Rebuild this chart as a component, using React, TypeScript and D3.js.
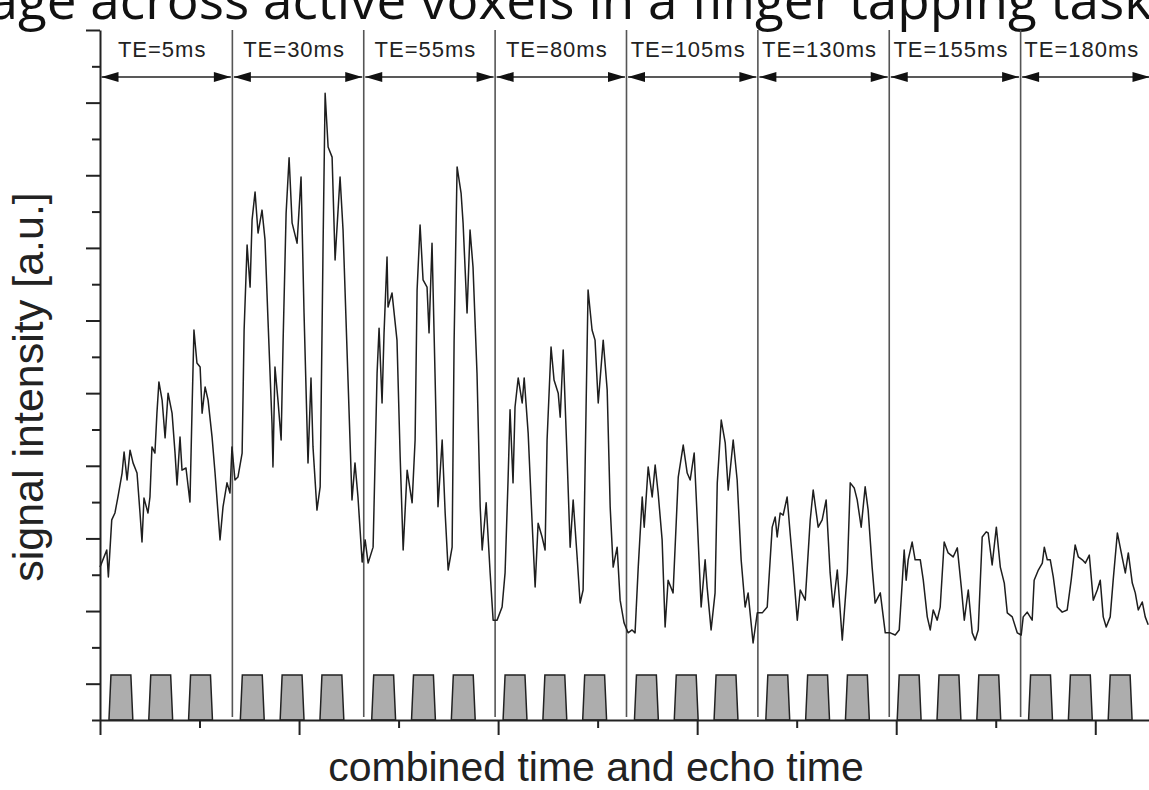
import React, { useRef, useEffect } from "react";
import * as d3 from "d3";

/* texts */
const titleText = "Signal average across active voxels in a finger tapping task";
const xLabel = "combined time and echo time";
const yLabel = "signal intensity [a.u.]";
const teLabels = ["TE=5ms", "TE=30ms", "TE=55ms", "TE=80ms", "TE=105ms", "TE=130ms", "TE=155ms", "TE=180ms"];

/* paradigm: 66 scans per echo time, three tapping blocks in each */
const scansPerTE = 66;
const totalScans = 528;
const blockOnsets = [4, 24, 44];
const blockLength = 12;
const boxLevel = 1.24;

/* axis ticks */
const yMax = 19;
const yMajorTicks = [1, 3, 5, 7, 9, 11, 13, 15, 17, 19];
const yMinorTicks = [0, 2, 4, 6, 8, 10, 12, 14, 16, 18];
const xMajorTicks = [0, 100, 200, 300, 400, 500];
const xMinorTicks = [50, 150, 250, 350, 450];

/* signal per echo time: [scan, intensity] */
const te5 = [[0, 4.21], [3.4, 4.68], [4.2, 3.94], [5.9, 5.51], [7.5, 5.7], [9.0, 6.14], [11.1, 6.8], [12.1, 7.38], [13.6, 6.61], [15.1, 7.43], [16.6, 7.08], [18.6, 6.8], [20.1, 5.7], [21.1, 4.9], [22.1, 6.11], [24.1, 5.7], [25.1, 6.14], [26.1, 7.52], [27.6, 7.35], [28.6, 8.45], [29.6, 9.31], [31.2, 8.81], [32.7, 7.77], [34.2, 9.0], [36.2, 8.45], [37.7, 7.35], [38.7, 6.47], [40.2, 7.79], [41.2, 6.88], [43.2, 6.94], [45.2, 6.0], [46.2, 8.45], [47.2, 10.74], [48.7, 9.83], [50.3, 9.72], [51.3, 8.45], [52.8, 9.17], [54.3, 8.81], [56.3, 7.79], [57.8, 6.8], [60.3, 4.96], [61.8, 5.87], [63.8, 6.53], [65.3, 6.25]];
const te30 = [[66.3, 7.52], [67.8, 6.61], [69.3, 6.69], [71.4, 7.35], [72.4, 10.74], [73.9, 13.08], [75.4, 11.92], [76.4, 13.77], [77.9, 14.54], [79.4, 13.41], [81.4, 14.04], [82.9, 13.22], [84.4, 11.01], [86.4, 8.18], [86.9, 6.97], [87.9, 9.72], [89.4, 8.81], [91.0, 7.71], [92.0, 10.46], [93.5, 13.96], [95.0, 15.48], [96.5, 13.69], [99.0, 13.13], [101.0, 14.95], [102.5, 11.21], [104.5, 7.08], [106.0, 9.42], [107.0, 7.52], [109.0, 5.78], [110.6, 6.42], [112.1, 13.22], [113.1, 17.26], [114.6, 15.78], [116.6, 15.5], [118.1, 12.67], [120.6, 14.95], [122.1, 13.49], [124.6, 9.36], [126.6, 6.06], [128.1, 7.08], [129.6, 6.14], [131.7, 4.35]];
const te55 = [[133.2, 4.96], [134.7, 4.32], [137.2, 4.76], [139.2, 9.55], [140.2, 10.79], [141.7, 8.73], [142.7, 10.66], [144.2, 12.75], [144.7, 11.37], [146.7, 11.76], [149.2, 10.46], [150.8, 7.24], [152.3, 4.68], [154.3, 6.88], [156.8, 5.98], [158.3, 7.71], [159.3, 11.84], [160.8, 13.63], [162.3, 12.12], [164.3, 11.92], [165.3, 10.66], [166.8, 13.13], [168.3, 9.55], [169.8, 5.87], [171.9, 7.71], [173.4, 5.7], [174.9, 4.13], [176.9, 4.76], [177.9, 10.46], [179.4, 15.23], [181.4, 14.51], [182.4, 13.69], [184.4, 11.21], [185.9, 13.49], [187.4, 12.47], [189.4, 9.55], [191.0, 5.87], [192.0, 4.68], [194.0, 5.98], [196.0, 4.05], [197.5, 2.75]];
const te80 = [[199.5, 2.75], [202.0, 3.11], [203.5, 4.05], [205.0, 6.61], [206.0, 8.54], [207.5, 6.53], [208.5, 8.62], [210.1, 9.42], [212.1, 8.73], [213.1, 9.42], [215.1, 7.9], [217.1, 5.42], [218.6, 3.66], [220.1, 5.42], [222.1, 5.04], [223.6, 4.68], [224.6, 7.71], [226.6, 10.27], [228.1, 9.36], [230.2, 9.0], [231.2, 8.34], [232.7, 10.19], [234.7, 7.16], [236.2, 4.76], [237.7, 6.06], [239.7, 4.49], [241.2, 3.22], [242.7, 3.58], [244.2, 8.62], [245.2, 11.84], [247.2, 10.74], [248.7, 10.46], [250.3, 8.73], [252.8, 10.46], [254.8, 9.09], [256.3, 5.87], [257.8, 4.21], [259.8, 4.76], [261.3, 3.3], [263.3, 2.67]];
const te105 = [[265.3, 2.4], [267.3, 2.48], [268.8, 2.4], [270.4, 4.21], [272.4, 6.14], [273.4, 5.31], [275.4, 6.97], [277.4, 6.14], [278.9, 7.02], [280.4, 6.25], [282.4, 4.96], [283.9, 2.56], [285.4, 3.85], [287.9, 3.5], [290.5, 6.69], [293.0, 7.57], [295.0, 6.8], [296.5, 6.61], [298.5, 7.35], [300.0, 5.59], [302.0, 3.11], [304.0, 4.41], [305.0, 3.66], [307.0, 2.48], [309.0, 3.5], [310.1, 6.53], [312.1, 8.26], [314.1, 7.63], [315.6, 6.33], [318.1, 7.71], [320.1, 6.61], [322.1, 4.41], [324.1, 3.11], [325.6, 3.5], [328.1, 2.12], [330.2, 2.95]];
const te130 = [[332.7, 2.95], [335.2, 3.11], [337.7, 5.31], [339.2, 5.59], [340.2, 5.04], [341.7, 5.7], [343.2, 5.64], [345.2, 6.14], [346.7, 5.15], [348.2, 4.21], [350.3, 2.75], [351.8, 3.58], [354.3, 3.3], [356.8, 5.51], [358.3, 6.33], [360.8, 5.31], [362.8, 5.51], [364.8, 6.06], [366.8, 4.05], [368.3, 3.11], [370.4, 4.13], [372.9, 2.2], [375.4, 4.05], [376.9, 6.53], [378.9, 6.39], [380.4, 6.06], [382.4, 5.31], [384.4, 6.42], [385.9, 5.78], [387.9, 4.21], [389.4, 3.22], [392.0, 3.5], [394.5, 2.4], [397.0, 2.4]];
const te155 = [[399.5, 2.34], [401.5, 2.48], [403.0, 3.77], [404.0, 4.68], [405.0, 3.85], [406.0, 4.41], [408.0, 4.9], [409.5, 4.41], [412.1, 4.41], [413.6, 3.85], [415.6, 2.84], [417.1, 2.48], [418.6, 3.03], [420.6, 2.75], [422.1, 3.11], [424.1, 4.9], [426.1, 4.6], [428.6, 4.49], [430.7, 4.74], [432.7, 3.66], [434.2, 2.75], [436.2, 3.58], [438.2, 2.4], [439.7, 2.2], [441.2, 2.48], [443.2, 5.04], [445.2, 5.18], [446.2, 5.15], [448.2, 4.27], [450.3, 5.31], [452.3, 4.21], [454.3, 3.77], [455.8, 2.95], [458.3, 2.84], [460.8, 2.4], [462.8, 2.34]];
const te180 = [[463.8, 2.84], [465.8, 2.97], [468.3, 2.75], [469.3, 3.85], [471.4, 4.13], [473.4, 4.32], [474.4, 4.76], [475.9, 4.41], [477.4, 4.41], [478.9, 3.94], [480.9, 3.11], [483.4, 2.97], [485.9, 3.03], [487.9, 3.85], [489.9, 4.82], [491.5, 4.49], [493.5, 4.41], [495.0, 4.32], [497.0, 4.54], [499.0, 3.3], [501.0, 3.58], [502.5, 3.85], [504.0, 2.84], [505.5, 2.56], [507.5, 2.84], [509.0, 3.85], [511.1, 5.15], [513.6, 4.46], [515.1, 4.05], [516.6, 4.6], [518.6, 3.77], [520.1, 3.5], [521.6, 3.03], [523.6, 3.25], [525.1, 2.84], [526.6, 2.62]];

const App = () => {
  const svgRef = useRef(null); /* svg in the DOM */

  const drawChart = () => {
    const width = 1149;
    const height = 790;
    const svg = d3.select(svgRef.current).attr("width", width).attr("height", height);
    svg.selectAll("*").remove();

    const x = d3.scaleLinear().domain([0, totalScans]).range([100, 1151]);
    const y = d3.scaleLinear().domain([0, yMax]).range([720, 30]);
    const font = "'Liberation Sans', Arial, sans-serif";
    const ink = "#222";

    /* Title, cropped at the top edge like the source figure */
    svg
      .append("text")
      .attr("x", 1152)
      .attr("y", 19)
      .attr("text-anchor", "end")
      .style("font-family", "'Open Sans', sans-serif")
      .style("font-size", "53px")
      .attr("fill", "#111")
      .text(titleText);

    /* segment boundaries */
    const segStart = (i) => i * scansPerTE + 0.5;
    const bounds = teLabels.map((_, i) => (i === 0 ? 0 : segStart(i)));
    bounds.push(totalScans);

    /* vertical separators */
    svg
      .selectAll(".sep")
      .data(bounds.slice(1, -1))
      .enter()
      .append("line")
      .attr("class", "sep")
      .attr("x1", (d) => x(d))
      .attr("x2", (d) => x(d))
      .attr("y1", y(yMax))
      .attr("y2", y(0) - 3)
      .attr("stroke", "#555")
      .attr("stroke-width", 1.6);

    /* TE labels with double arrows */
    const arrowY = 77;
    teLabels.forEach((label, i) => {
      const x0 = x(bounds[i]) + 1.5;
      const x1 = x(bounds[i + 1]) - 1.5;
      svg
        .append("line")
        .attr("x1", x0)
        .attr("x2", x1)
        .attr("y1", arrowY)
        .attr("y2", arrowY)
        .attr("stroke", ink)
        .attr("stroke-width", 1.6);
      svg
        .append("path")
        .attr("d", `M${x0},${arrowY} l17,-5 v10 Z M${x1},${arrowY} l-17,-5 v10 Z`)
        .attr("fill", "#111");
      svg
        .append("text")
        .attr("x", (x0 + x1) / 2 - 4)
        .attr("y", 57)
        .attr("text-anchor", "middle")
        .style("font-family", font)
        .style("font-size", "22px")
        .style("letter-spacing", "1px")
        .attr("fill", ink)
        .text(label);
    });

    /* Stimulus boxes */
    const boxLine = d3
      .line()
      .x((d) => x(d[0]))
      .y((d) => y(d[1]));
    const boxes = [];
    teLabels.forEach((_, i) => {
      blockOnsets.forEach((o) => {
        const s = segStart(i) + o;
        boxes.push([
          [s, 0],
          [s + 1, boxLevel],
          [s + blockLength - 1, boxLevel],
          [s + blockLength, 0],
        ]);
      });
    });
    svg
      .selectAll(".box")
      .data(boxes)
      .enter()
      .append("path")
      .attr("class", "box")
      .attr("d", (d) => boxLine(d) + "Z")
      .attr("fill", "#adadad")
      .attr("stroke", ink)
      .attr("stroke-width", 1.5);

    /* Signal line */
    const signal = [...te5, ...te30, ...te55, ...te80, ...te105, ...te130, ...te155, ...te180];
    svg
      .append("path")
      .datum(signal)
      .attr("fill", "none")
      .attr("stroke", "#1e1e1e")
      .attr("stroke-width", 1.5)
      .attr("stroke-linejoin", "round")
      .attr("d", boxLine);

    /* Axes: long and short ticks, no labels */
    const styleAxis = (g) => {
      g.selectAll("line, path").attr("stroke", ink).attr("stroke-width", 2);
      g.selectAll("text").remove();
    };
    svg
      .append("g")
      .attr("transform", `translate(${x(0)},0)`)
      .call(d3.axisLeft(y).tickValues(yMajorTicks).tickSize(14).tickSizeOuter(0))
      .call(styleAxis);
    svg
      .append("g")
      .attr("transform", `translate(${x(0)},0)`)
      .call(d3.axisLeft(y).tickValues(yMinorTicks).tickSize(8).tickSizeOuter(0))
      .call(styleAxis)
      .call((g) => g.select(".domain").remove());
    svg
      .append("g")
      .attr("transform", `translate(0,${y(0)})`)
      .call(d3.axisBottom(x).tickValues(xMajorTicks).tickSize(15).tickSizeOuter(0))
      .call(styleAxis);
    svg
      .append("g")
      .attr("transform", `translate(0,${y(0)})`)
      .call(d3.axisBottom(x).tickValues(xMinorTicks).tickSize(8).tickSizeOuter(0))
      .call(styleAxis)
      .call((g) => g.select(".domain").remove());

    /* Axis titles */
    svg
      .append("text")
      .attr("transform", "translate(43, 387) rotate(-90)")
      .attr("text-anchor", "middle")
      .style("font-family", font)
      .style("font-size", "43px")
      .attr("fill", ink)
      .text(yLabel);
    svg
      .append("text")
      .attr("x", 596)
      .attr("y", 781)
      .attr("text-anchor", "middle")
      .style("font-family", font)
      .style("font-size", "41px")
      .attr("fill", ink)
      .text(xLabel);
  };

  useEffect(() => {
    drawChart();
  }, []);

  return (
    <svg
      ref={svgRef}
      style={{ position: "absolute", left: 0, top: 0, background: "#fff", display: "block" }}
    />
  );
};

export default App;
